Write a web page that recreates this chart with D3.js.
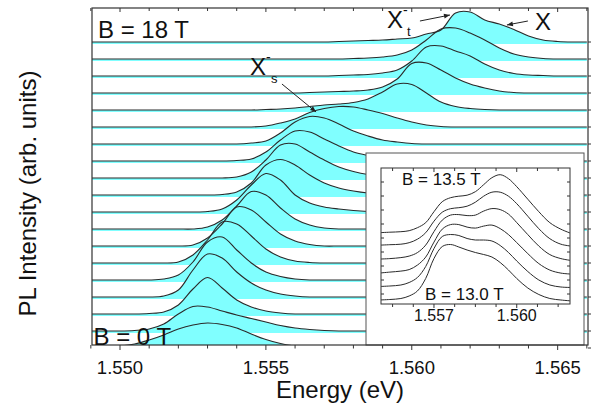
<!DOCTYPE html>
<html><head><meta charset="utf-8">
<script src="https://cdn.jsdelivr.net/npm/d3@7"></script>
<style>body{margin:0;background:#fff}svg{display:block;font-family:"Liberation Sans",Arial,sans-serif}</style>
</head><body><svg id="c" width="596" height="409"></svg>
<script>
// ---------------- DATA ----------------
const energy = [1.5490,1.5495,1.5500,1.5505,1.5510,1.5515,1.5520,1.5525,1.5530,1.5535,1.5540,1.5545,1.5550,1.5555,1.5560,1.5565,1.5570,1.5575,1.5580,1.5585,1.5590,1.5595,1.5600,1.5605,1.5610,1.5615,1.5620,1.5625,1.5630,1.5635,1.5640,1.5645,1.5650,1.5655,1.5660];
const fieldsT = [0,1,2,3,4,5,6,7,8,9,10,11,12,13,14,15,16,17,18];
const pl_B00 = [2.5,3,4,6,10,15,21,25,27,25.5,22,16,10.5,6.5,4,3,2.5,2,2,2,2,2,2,2,2,2,2,2,2,2,2,2,2,2,2];
const pl_B01 = [2,2,2,2.5,4,9,19,26.5,26,22,18,14.5,11,7.5,5,3.5,2.5,2,2,2,2,2,2,2,2,2,2,2,2,2,2,2,2,2,2];
const pl_B02 = [2,2,2,2,2.5,4,11,27,38.5,28,16,9,5,3,2,2,2,2,2,2,2,2,2,2,2,2,2,2,2,2,2,2,2,2,2];
const pl_B03 = [2,2,2,2,2,3,9,29,45,41,27,16,9,5,3,2,2,2,2,2,2,2,2,2,2,2,2,2,2,2,2,2,2,2,2];
const pl_B04 = [2,2,2,2,2,3,7,20,40,45,32,19,10,5.5,3,2,2,2,2,2,2,2,2,2,2,2,2,2,2,2,2,2,2,2,2];
const pl_B05 = [2,2,2,2,2,2,3,10,25,43,41,29,16,8,4,2.5,2,2,2,2,2,2,2,2,2,2,2,2,2,2,2,2,2,2,2];
const pl_B06 = [2,2,2,2,2,2,2,3,10,24,41,38,26,14,7,3.5,2,2,2,2,2,2,2,2,2,2,2,2,2,2,2,2,2,2,2];
const pl_B07 = [2,2,2,2,2,2,2,2,4,11,25,39.5,36,23,12,6,3,2,2,2,2,2,2,2,2,2,2,2,2,2,2,2,2,2,2];
const pl_B08 = [2,2,2,2,2,2,2,2,2.5,5,14,29,40.5,34,19,11,7,5,3.5,2.5,2,2,2,2,2,2,2,2,2,2,2,2,2,2,2];
const pl_B09 = [2,2,2,2,2,2,2,2,2,2.5,5,14,32,37.5,32,22,14,9,6,4,3,2,2,2,2,2,2,2,2,2,2,2,2,2,2];
const pl_B10 = [2,2,2,2,2,2,2,2,2,2,3,8,20,35,36,28,20,13,8.5,5.5,4,3,2,2,2,2,2,2,2,2,2,2,2,2,2];
const pl_B11 = [2,2,2,2,2,2,2,2,2,2,2.5,4,11,23,32,31,24,17,11,7.5,5,3.5,2.5,2,2,2,2,2,2,2,2,2,2,2,2];
const pl_B12 = [2,2,2,2,2,2,2,2,2,2,2,3,5,13,24,29.5,28,22,15,10,6,4,2.5,2,2,2,2,2,2,2,2,2,2,2,2];
const pl_B13 = [2,2,2,2,2,2,2,2,2,2,2,2,3,6,10,16.5,20.5,22.5,22,19,15.5,11,7,4,2.5,2,2,2,2,2,2,2,2,2,2];
const pl_B14 = [2,2,2,2,2,2,2,2,2,2,2,2,2.5,3,4,5.5,7,8,9.5,13,20,28,27.5,19,10,5.5,3.5,2.5,2,2,2,2,2,2,2];
const pl_B15 = [2,2,2,2,2,2,2,2,2,2,2,2,2,2,2,2.5,3,3.5,4,5,8,16,31.5,32,25,17,11,7,4,2.5,2,2,2,2,2];
const pl_B16 = [2,2,2,2,2,2,2,2,2,2,2,2,2,2,2,2,2,2.5,3,3.5,5,8,17,31,32,27,22,14,8,4.5,3,2.5,2,2,2];
const pl_B17 = [2,2,2,2,2,2,2,2,2,2,2,2,2,2,2,2,2,2,2.5,3,4,6,11,21,32,33,28,21,13,7,4,2.5,2,2,2];
const pl_B18 = [2,2,2,2,2,2,2,2,2,2,2,2,2,2,2,2,2,2.5,3,3.5,4,5,6,10,14,31,32,24,20,14.5,8,4,2.5,2,2];
const spectra = [pl_B00,pl_B01,pl_B02,pl_B03,pl_B04,pl_B05,pl_B06,pl_B07,pl_B08,pl_B09,pl_B10,pl_B11,pl_B12,pl_B13,pl_B14,pl_B15,pl_B16,pl_B17,pl_B18];
const xMajorTicks = [1.550,1.555,1.560,1.565];
const xMinorTicks = [1.549,1.550,1.551,1.552,1.553,1.554,1.555,1.556,1.557,1.558,1.559,1.560,1.561,1.562,1.563,1.564,1.565,1.566];

// inset data (B = 13.0 ... 13.5 T)
const insetEnergy = [1.5550,1.5554,1.5558,1.5561,1.5564,1.5567,1.5570,1.5573,1.5576,1.5579,1.5582,1.5585,1.5588,1.5591,1.5594,1.5597,1.5600,1.5604,1.5608,1.5612,1.5616,1.5620];
const insetFieldsT = [13.0,13.1,13.2,13.3,13.4,13.5];
const inset_B130 = [-0.5,0,1,3.5,8.5,21,41,53,55,52.5,49.5,47,45,42.5,37,29.5,21,11.5,5,1,-0.5,-1.5];
const inset_B131 = [-0.5,0,1,3.5,8.5,19.5,37.5,49.5,51.5,50.5,47.5,46,46,45,40.5,33.5,25,14.5,6,1,-1,-1.5];
const inset_B132 = [-0.5,0.5,1.5,3,7.5,15.5,30.5,43.5,48,48,45.5,44.5,46.5,47.5,44,38,30,19,9,2.5,-0.5,-1.5];
const inset_B133 = [0,0.5,1.5,3,6.5,14,27.5,39,44,44.5,43.5,44,48,50.5,49.5,45,36.5,24.5,13,4.5,0.5,-1.5];
const inset_B134 = [0.5,1,1.5,3,6.5,13,24.5,33.5,37,38,39.5,43.5,49.5,53.5,53.5,49.5,42,29.5,17,7,1.5,-0.5];
const inset_B135 = [-0.5,0,0.5,1.5,4.5,9.5,20.5,30.5,34.5,36,37,40.5,47.5,54.5,57.5,53.5,45.5,33,20.5,9.5,3,-1.5];
const insetSpectra = [inset_B130,inset_B131,inset_B132,inset_B133,inset_B134,inset_B135];
const insetOffsets = [4.5,18,31.4,44.9,58.3,71.8];
const insetMajorTicks = [1.557,1.560];
const insetMinorTicks = [1.5555,1.55625,1.557,1.55775,1.5585,1.55925,1.560,1.56075,1.5615];
const insetYTicks = [10,24,38,52,66,80,94,108,122];

// ---------------- LAYOUT ----------------
const OFFSET = 17;
const M = {left:92, top:8, right:588, bottom:345};
const FILL = '#80ffff', LINE = '#2a2a2a';
const svg = d3.select('#c');
const defs = svg.append('defs');
defs.append('clipPath').attr('id','clipMain').append('rect')
  .attr('x',M.left).attr('y',M.top).attr('width',M.right-M.left).attr('height',M.bottom-M.top);
defs.append('marker').attr('id','ah').attr('viewBox','0 0 10 10').attr('refX',10).attr('refY',5)
  .attr('markerWidth',7).attr('markerHeight',6).attr('markerUnits','userSpaceOnUse').attr('orient','auto')
  .append('path').attr('d','M0,1 L10,5 L0,9 Z').attr('fill','#222');

const x = d3.scaleLinear().domain([1.54904,1.56604]).range([M.left,M.right]);
const y = d3.scaleLinear().domain([5,342]).range([M.bottom,M.top]);
const curve = d3.curveCatmullRom.alpha(0.5);

const series = spectra.map((arr,k)=>({off: fieldsT[k]*OFFSET, pts: arr.map((v,i)=>({e:energy[i], v}))}));
const gMain = svg.append('g').attr('clip-path','url(#clipMain)');
gMain.selectAll('path.f').data(series).join('path').attr('class','f')
  .attr('d', s => d3.area().curve(curve).x(d=>x(d.e)).y0(y(s.off)).y1(d=>y(s.off+d.v))(s.pts))
  .attr('fill', FILL).attr('stroke','none');
gMain.selectAll('path.l').data(series).join('path').attr('class','l')
  .attr('d', s => d3.line().curve(curve).x(d=>x(d.e)).y(d=>y(s.off+d.v))(s.pts))
  .attr('fill','none').attr('stroke',LINE).attr('stroke-width',1.1);

// ---------------- INSET ----------------
const IB = {x0:366, y0:153, x1:584, y1:345};
svg.append('rect').attr('x',IB.x0).attr('y',IB.y0).attr('width',IB.x1-IB.x0).attr('height',IB.y1-IB.y0)
  .attr('fill','#fff').attr('stroke','#555').attr('stroke-width',1);
const IP = {left:381, top:168, right:570, bottom:304};
defs.append('clipPath').attr('id','clipIn').append('rect')
  .attr('x',IP.left).attr('y',IP.top).attr('width',IP.right-IP.left).attr('height',IP.bottom-IP.top);
const ix = d3.scaleLinear().domain([1.55508,1.56193]).range([IP.left,IP.right]);
const iy = d3.scaleLinear().domain([0,136]).range([IP.bottom,IP.top]);
const gIn = svg.append('g').attr('clip-path','url(#clipIn)');
gIn.selectAll('path').data(insetSpectra).join('path')
  .attr('d', (arr,k) => d3.line().curve(curve).x((v,i)=>ix(insetEnergy[i])).y(v=>iy(insetOffsets[k]+v))(arr))
  .attr('fill','none').attr('stroke',LINE).attr('stroke-width',1);
svg.append('rect').attr('x',IP.left).attr('y',IP.top).attr('width',IP.right-IP.left).attr('height',IP.bottom-IP.top)
  .attr('fill','none').attr('stroke','#333').attr('stroke-width',1);
const gIT = svg.append('g').attr('stroke','#333').attr('stroke-width',1);
insetMinorTicks.forEach(t=>{
  const len = insetMajorTicks.includes(t)?4:3;
  gIT.append('line').attr('x1',ix(t)).attr('x2',ix(t)).attr('y1',IP.bottom).attr('y2',IP.bottom+len);
  gIT.append('line').attr('x1',ix(t)).attr('x2',ix(t)).attr('y1',IP.top).attr('y2',IP.top+len);
});
insetYTicks.forEach(t=>{
  gIT.append('line').attr('x1',IP.left).attr('x2',IP.left+3).attr('y1',iy(t)).attr('y2',iy(t));
  gIT.append('line').attr('x1',IP.right-3).attr('x2',IP.right).attr('y1',iy(t)).attr('y2',iy(t));
});
svg.append('g').selectAll('text').data(insetMajorTicks).join('text')
  .attr('x',d=>ix(d)).attr('y',321).attr('text-anchor','middle').attr('font-size',16).attr('fill','#111')
  .text(d=>d3.format('.3f')(d));
svg.append('text').attr('x',402).attr('y',185).attr('font-size',17).attr('fill','#111').text('B = 13.5 T');
svg.append('text').attr('x',425).attr('y',300).attr('font-size',17).attr('fill','#111').text('B = 13.0 T');

// ---------------- MAIN AXES ----------------
const gT = svg.append('g').attr('stroke','#333').attr('stroke-width',1);
xMinorTicks.forEach(t=>{
  const major = xMajorTicks.includes(t);
  gT.append('line').attr('x1',x(t)).attr('x2',x(t)).attr('y1',M.bottom).attr('y2',M.bottom+(major?5:3.5));
  gT.append('line').attr('x1',x(t)).attr('x2',x(t)).attr('y1',M.top).attr('y2',M.top+(major?4:3));
});
fieldsT.forEach(b=>{
  const yy = y(b*OFFSET+2);
  gT.append('line').attr('x1',M.right).attr('x2',M.right+3).attr('y1',yy).attr('y2',yy);
});
svg.append('rect').attr('x',M.left).attr('y',M.top).attr('width',M.right-M.left).attr('height',M.bottom-M.top)
  .attr('fill','none').attr('stroke','#333').attr('stroke-width',1.2);
svg.append('g').selectAll('text').data(xMajorTicks).join('text')
  .attr('x',d=>x(d)).attr('y',373.5).attr('text-anchor','middle').attr('font-size',18.5).attr('fill','#111')
  .text(d=>d3.format('.3f')(d));
svg.append('text').attr('x',(M.left+M.right)/2).attr('y',398).attr('text-anchor','middle')
  .attr('font-size',24).attr('fill','#111').text('Energy (eV)');
svg.append('text').attr('transform','translate(36,193.5) rotate(-90)').attr('text-anchor','middle')
  .attr('font-size',24).attr('fill','#111').text('PL Intensity (arb. units)');

// ---------------- ANNOTATIONS ----------------
svg.append('text').attr('x',98).attr('y',38).attr('font-size',24).attr('fill','#111').text('B = 18 T');
svg.append('text').attr('x',93.5).attr('y',344.5).attr('font-size',24).attr('fill','#111').text('B = 0 T');
function label(xp,yp,main,sup,sub,subdx){
  const g = svg.append('g').attr('fill','#111');
  g.append('text').attr('x',xp).attr('y',yp).attr('font-size',24).text(main);
  g.append('text').attr('x',xp+16).attr('y',yp-13).attr('font-size',14).text(sup);
  if(sub) g.append('text').attr('x',xp+subdx).attr('y',yp+8).attr('font-size',13).text(sub);
}
label(250,75,'X','-','s',21);
label(387,28,'X','-','t',20);
svg.append('text').attr('x',535).attr('y',30).attr('font-size',24).attr('fill','#111').text('X');
const arrows = [
  {e0:1.55555, v0:266, e1:1.55672, v1:238},
  {e0:1.56028, v0:329, e1:1.56131, v1:335},
  {e0:1.56398, v0:329, e1:1.56326, v1:325}
];
svg.append('g').selectAll('line').data(arrows).join('line')
  .attr('x1',d=>x(d.e0)).attr('y1',d=>y(d.v0)).attr('x2',d=>x(d.e1)).attr('y2',d=>y(d.v1))
  .attr('stroke','#222').attr('stroke-width',1).attr('marker-end','url(#ah)');
</script></body></html>
